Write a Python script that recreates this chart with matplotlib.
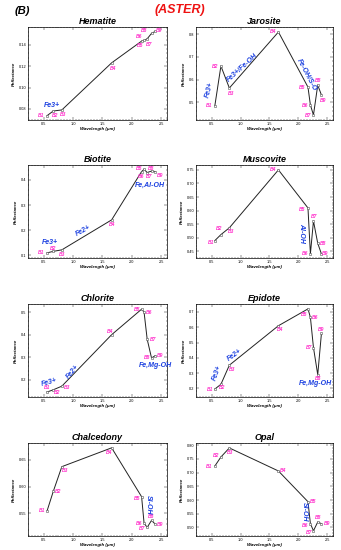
import numpy as np
import matplotlib
matplotlib.use("Agg")
import matplotlib.pyplot as plt
from matplotlib.ticker import AutoMinorLocator

plt.rcParams["font.family"] = ["Liberation Sans", "DejaVu Sans"]

# ASTER VNIR/SWIR band centres (um)
wavelength = [0.556, 0.661, 0.807, 1.656, 2.167, 2.209, 2.262, 2.336, 2.400]
bands = ["B1", "B2", "B3", "B4", "B5", "B6", "B7", "B8", "B9"]

hematite = [0.0738, 0.0781, 0.0791, 0.1231, 0.1434, 0.1441, 0.1456, 0.1506, 0.1525]
jarosite = [0.485, 0.660, 0.563, 0.810, 0.567, 0.488, 0.444, 0.576, 0.532]
biotite = [0.110, 0.116, 0.122, 0.241, 0.433, 0.442, 0.429, 0.435, 0.433]
muscovite = [0.490, 0.512, 0.537, 0.750, 0.610, 0.441, 0.562, 0.480, 0.441]
chlorite = [0.146, 0.156, 0.172, 0.400, 0.513, 0.500, 0.380, 0.297, 0.307]
epidote = [0.196, 0.227, 0.352, 0.610, 0.720, 0.665, 0.467, 0.290, 0.560]
chalcedony = [0.555, 0.591, 0.637, 0.672, 0.581, 0.532, 0.524, 0.537, 0.530]
opal = [0.724, 0.757, 0.790, 0.706, 0.594, 0.514, 0.488, 0.520, 0.514]

# label offsets (points) for B1..B9 in each panel
off_hematite = [(-4, 0), (1, -3), (1, -3), (1, -4), (-1, -3), (-3.5, 3), (1.5, -4), (-5, 2), (3, 0.5)]
off_jarosite = [(-4, 0), (-4, 0), (1, -4), (-4, 0), (-4.5, 0), (-4, 0), (-4, 0), (0, 3), (1, -4)]
off_biotite = [(-4, 0), (0, 2.2), (0.5, -3.5), (0.5, -3), (-1.5, 2), (-2.5, -5.5), (1.5, -3), (0, 2), (3.5, -3)]
off_muscovite = [(-3, -1.5), (-1, 4.5), (1, -2.5), (-4, 0), (-4, -1), (-4, 0), (0.5, 3), (3.5, 0), (2.5, 0)]
off_chlorite = [(0, 3), (3, -2), (4, -1), (-1, 2.5), (-3.5, 0), (3.5, 0), (4, 0), (-3.5, 0), (3.5, 0)]
off_epidote = [(-3.5, 0), (1, -2.5), (2, -3), (1, -3), (-3, -4), (3.5, 0), (-3.5, 0), (0, -3), (0, 2.5)]
off_chalcedony = [(-3.5, 0), (3.5, 0), (2, -3), (-2, -3.5), (-3.5, -1), (-3.5, 0), (-3.5, -1), (0, 2.5), (3.5, 0)]
off_opal = [(-4, 0), (-3.5, 1), (0.5, -3), (3.5, 0), (4, 0), (-3.5, -1), (-3.5, -1), (0.5, 3), (4, 0)]

# (name, values, offsets, ylim, yticks, yfmt, annotations[(text, x, y, rot)])
PANELS = [
    ("Hematite", hematite, off_hematite, (0.0697, 0.1566), [0.08, 0.10, 0.12, 0.14], "%.2f",
     [("Fe3+", 0.645, 0.083, 0)]),
    ("Jarosite", jarosite, off_jarosite, (0.422, 0.832), [0.5, 0.6, 0.7, 0.8], "%.1f",
     [("Fe3+", 0.47, 0.554, 75), ("Fe3+/Fe-OH", 1.04, 0.652, 42),
      ("Fe-OH/S-O", 2.14, 0.62, -62)]),
    ("Biotite", biotite, off_biotite, (0.0896, 0.459), [0.1, 0.2, 0.3, 0.4], "%.1f",
     [("Fe3+", 0.6, 0.152, 0), ("Fe2+", 1.18, 0.198, 28), ("Fe,Al-OH", 2.31, 0.38, 0)]),
    ("Muscovite", muscovite, off_muscovite, (0.426, 0.768),
     [0.45, 0.50, 0.55, 0.60, 0.65, 0.70, 0.75], "%.2f",
     [("Al-OH", 2.06, 0.517, -90)]),
    ("Chlorite", chlorite, off_chlorite, (0.124, 0.536), [0.2, 0.3, 0.4, 0.5], "%.1f",
     [("Fe3+", 0.6, 0.187, 15), ("Fe2+", 1.0, 0.236, 50), ("Fe,Mg-OH", 2.4, 0.264, 0)]),
    ("Epidote", epidote, off_epidote, (0.144, 0.752), [0.2, 0.3, 0.4, 0.5, 0.6, 0.7], "%.1f",
     [("Fe3+", 0.6, 0.30, 70), ("Fe2+", 0.9, 0.42, 35), ("Fe,Mg-OH", 2.3, 0.23, 0)]),
    ("Chalcedony", chalcedony, off_chalcedony, (0.508, 0.681), [0.55, 0.60, 0.65], "%.2f",
     [("Si-OH", 2.285, 0.566, -90)]),
    ("Opal", opal, off_opal, (0.469, 0.808),
     [0.50, 0.55, 0.60, 0.65, 0.70, 0.75, 0.80], "%.2f",
     [("Si-OH", 2.1, 0.556, -90)]),
]

W, H = 341, 550
fig = plt.figure(figsize=(W / 100, H / 100), dpi=100)

col_x = [(28, 167), (196, 333)]
row_top = [27, 165, 304, 443]
ph = 93

for i, (name, vals, offs, ylim, yticks, yfmt, notes) in enumerate(PANELS):
    r, c = divmod(i, 2)
    x0, x1 = col_x[c]
    top = row_top[r]
    ax = fig.add_axes([x0 / W, 1 - (top + ph) / H, (x1 - x0) / W, ph / H])
    ax.plot(wavelength, vals, color="#222222", lw=0.7, marker="s", ms=1.6,
            mfc="white", mec="#555555", mew=0.4)
    for b, x, y, (dx, dy) in zip(bands, wavelength, vals, offs):
        ax.annotate(b, (x, y), xytext=(dx, dy), textcoords="offset points",
                    ha="center", va="center", fontsize=3.6, color="#ff33cc",
                    fontweight="bold", fontstyle="italic")
    for txt, x, y, rot in notes:
        ax.text(x, y, txt, ha="center", va="center", rotation=rot, fontsize=5,
                color="#1a3fe0", fontweight="bold", fontstyle="italic")
    ax.set_xlim(0.23, 2.6)
    ax.set_ylim(*ylim)
    ax.set_xticks([0.5, 1.0, 1.5, 2.0, 2.5])
    ax.set_yticks(yticks)
    ax.set_yticklabels([yfmt % t for t in yticks])
    ax.xaxis.set_minor_locator(AutoMinorLocator(10))
    ax.yaxis.set_minor_locator(AutoMinorLocator(5))
    ax.tick_params(which="both", direction="in", top=True, right=True,
                   labelsize=2.8, width=0.3, pad=1.2)
    ax.tick_params(which="major", length=2)
    ax.tick_params(which="minor", length=1)
    for s in ax.spines.values():
        s.set_linewidth(0.5)
    ax.set_xlabel("Wavelength (\u03bcm)", fontsize=3.2, fontweight="bold",
                  fontstyle="italic", labelpad=1)
    ax.set_ylabel("Reflectance", fontsize=3.2, fontweight="bold",
                  fontstyle="italic", labelpad=2)
    ax.set_title(name, fontsize=6.5, fontweight="bold", fontstyle="italic", pad=2)

fig.text(15 / W, 1 - 11 / H, "(B)", fontsize=8, fontweight="bold",
         fontstyle="italic", va="center", ha="left")
fig.text(180 / W, 1 - 10 / H, "(ASTER)", fontsize=9, fontweight="bold",
         fontstyle="italic", color="#ee1111", va="center", ha="center")

fig.savefig("out.png", dpi=100)
